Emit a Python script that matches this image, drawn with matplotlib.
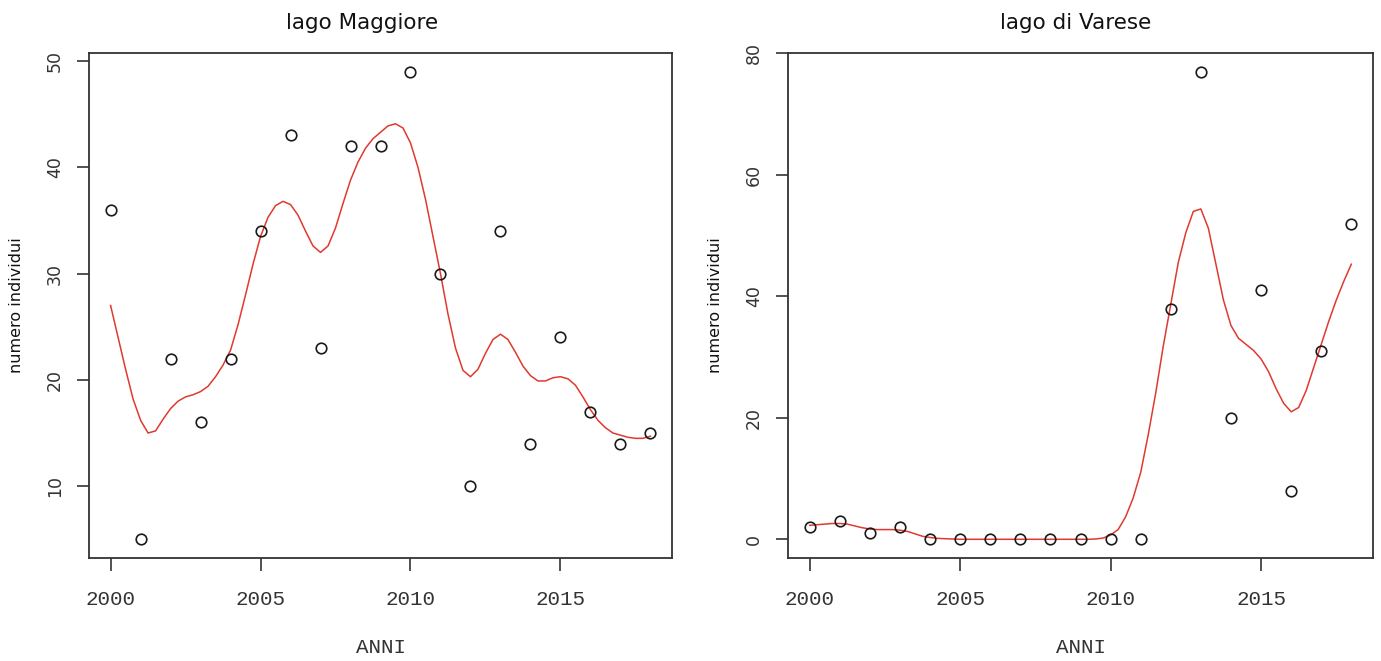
import numpy as np
import matplotlib
matplotlib.use("Agg")
import matplotlib.pyplot as plt

# ---------------- data ----------------
years = [2000, 2001, 2002, 2003, 2004, 2005, 2006, 2007, 2008, 2009,
         2010, 2011, 2012, 2013, 2014, 2015, 2016, 2017, 2018]

maggiore_counts = [36, 5, 22, 16, 22, 34, 43, 23, 42, 42,
                   49, 30, 10, 34, 14, 24, 17, 14, 15]
varese_counts = [2, 3, 1, 2, 0, 0, 0, 0, 0, 0,
                 0, 0, 38, 77, 20, 41, 8, 31, 52]

# smoothed trend (red line), every quarter year
smooth_years = [2000 + 0.25 * i for i in range(73)]
maggiore_smooth = [
    27.0, 24.0, 21.0, 18.2, 16.2, 15.0, 15.2, 16.3, 17.3, 18.0, 18.4, 18.6,
    18.9, 19.4, 20.3, 21.4, 22.8, 25.2, 28.0, 30.9, 33.5, 35.3, 36.4, 36.8,
    36.5, 35.5, 34.0, 32.6, 32.0, 32.6, 34.3, 36.6, 38.8, 40.5, 41.8, 42.7,
    43.3, 43.9, 44.1, 43.7, 42.3, 40.0, 37.0, 33.5, 30.0, 26.2, 23.0, 20.9,
    20.3, 21.0, 22.5, 23.8, 24.3, 23.8, 22.6, 21.3, 20.4, 19.9, 19.9, 20.2,
    20.3, 20.1, 19.5, 18.4, 17.2, 16.2, 15.5, 15.0, 14.8, 14.6, 14.5, 14.5,
    14.7]
varese_smooth = [
    2.3, 2.4, 2.5, 2.6, 2.6, 2.5, 2.2, 1.9, 1.7, 1.6, 1.6, 1.6,
    1.5, 1.3, 0.9, 0.5, 0.3, 0.15, 0.1, 0.05, 0.0, 0.0, 0.0, 0.0,
    0.0, 0.0, 0.0, 0.0, 0.0, 0.0, 0.0, 0.0, 0.0, 0.0, 0.0, 0.0,
    0.0, 0.0, 0.05, 0.2, 0.7, 1.6, 3.7, 6.8, 11.0, 17.2, 24.1, 31.8,
    38.7, 45.6, 50.5, 54.0, 54.4, 51.2, 45.3, 39.4, 35.2, 33.1, 32.1, 31.1,
    29.7, 27.6, 24.8, 22.4, 21.0, 21.7, 24.5, 28.3, 32.1, 35.9, 39.4, 42.5,
    45.3]

titles = ["lago Maggiore", "lago di Varese"]
xlabel = "ANNI"
ylabel = "numero individui"
xticks = [2000, 2005, 2010, 2015]
yticks_list = [[10, 20, 30, 40, 50], [0, 20, 40, 60, 80]]

# ---------------- style ----------------
W, H = 1381, 661
fig = plt.figure(figsize=(W / 100, H / 100), dpi=100)
fig.patch.set_facecolor("white")

axes_px = [(89, 53, 672, 558), (788, 53, 1373, 558)]
title_x = [0.468, 0.491]
series = [(maggiore_counts, maggiore_smooth), (varese_counts, varese_smooth)]

spine_col = "#333333"
text_col = "#333333"
mono = ["Liberation Mono", "DejaVu Sans Mono"]

for i, (l, t, r, b) in enumerate(axes_px):
    ax = fig.add_axes([l / W, 1 - b / H, (r - l) / W, (b - t) / H])
    pts, sm = series[i]
    ax.plot(smooth_years, sm, color="#e0392f", lw=1.1, zorder=2,
            solid_joinstyle="round")
    ax.plot(years, pts, linestyle="none", marker="o", ms=7.6,
            mfc="none", mec="#1a1a1a", mew=1.2, zorder=3)
    ax.margins(x=0.04, y=0.04)

    for s in ax.spines.values():
        s.set_color(spine_col)
        s.set_linewidth(1.3)

    ax.set_xticks(xticks)
    ax.set_xticklabels([str(x) for x in xticks], fontfamily=mono,
                       fontsize=15, color=text_col)
    ax.set_yticks(yticks_list[i])
    ax.set_yticklabels([str(y) for y in yticks_list[i]], rotation=90,
                       va="center", fontsize=12.5, color=text_col,
                       fontfamily="DejaVu Sans")
    ax.tick_params(axis="x", length=9, width=1.2, color=spine_col, pad=14)
    ax.tick_params(axis="y", length=9, width=1.2, color=spine_col, pad=9)

    ax.set_title(titles[i], fontsize=15.5, color="#111111",
                 x=title_x[i], pad=17, fontfamily="DejaVu Sans")
    ax.set_xlabel(xlabel, fontfamily=mono, fontsize=15, color=text_col,
                  labelpad=21)
    ax.set_ylabel(ylabel, fontsize=11.5, color="#111111", labelpad=16,
                  fontfamily="DejaVu Sans")

fig.savefig("out.png", dpi=100, facecolor="white")
